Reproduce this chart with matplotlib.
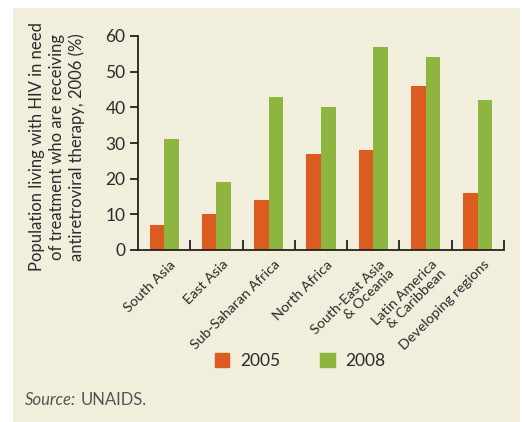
import numpy as np
import matplotlib
matplotlib.use('Agg')
import matplotlib.pyplot as plt
import matplotlib.patches as mpatches

plt.rcParams['font.family'] = ['Lato', 'DejaVu Sans']

# ── DATA ─────────────────────────────────────────────────────────────────────
regions = ['South Asia', 'East Asia', 'Sub-Saharan Africa', 'North Africa',
           'South-East Asia\n& Oceania', 'Latin America\n& Caribbean',
           'Developing regions']
vals_2005 = [7, 10, 14, 27, 28, 46, 16]
vals_2008 = [31, 19, 43, 40, 57, 54, 42]
series = ['2005', '2008']
yticks = [0, 10, 20, 30, 40, 50, 60]

ORANGE = '#DC5B20'
GREEN = '#8DB53F'
BEIGE = '#F1EEDC'
TXT = '#2b2b2b'

W, H = 522, 422
fig = plt.figure(figsize=(W / 100, H / 100), dpi=100, facecolor='white')

# beige panel behind everything
fig.patches.append(mpatches.Rectangle((13 / W, 0), 507 / W, 1 - 8 / H,
                                      transform=fig.transFigure,
                                      facecolor=BEIGE, edgecolor='none', zorder=-10))

ax = fig.add_axes([138 / W, 1 - 250 / H, (504 - 138) / W, (250 - 36) / H])
ax.set_facecolor('none')
ax.set_zorder(2)

x = np.arange(len(regions))
bw = 0.28
ax.bar(x - bw / 2, vals_2005, bw, color=ORANGE, label=series[0], zorder=2)
ax.bar(x + bw / 2, vals_2008, bw, color=GREEN, label=series[1], zorder=2)

ax.set_xlim(-0.5, len(regions) - 0.5)
ax.set_ylim(0, 60)
ax.set_yticks(yticks)

for s in ['top', 'right']:
    ax.spines[s].set_visible(False)
for s in ['left', 'bottom']:
    ax.spines[s].set_linewidth(1.3)
    ax.spines[s].set_color('#222222')

ax.tick_params(axis='y', direction='out', length=6, width=1.3, color='#222222',
               labelsize=12.5, labelcolor=TXT, pad=3)

# group-boundary ticks pointing up
ax.set_xticks(np.arange(len(regions)) + 0.5)
ax.set_xticklabels([])
ax.tick_params(axis='x', direction='in', length=7, width=1.3, color='#222222')

for xi, lab in zip(x, regions):
    ax.text(xi + 0.1, -2.3, lab, rotation=45, rotation_mode='anchor',
            ha='right', va='top', multialignment='right', fontsize=10.3,
            color=TXT, transform=ax.transData, clip_on=False, linespacing=1.1)

fig.text(57 / W, 1 - 147 / H,
         'Population living with HIV in need\nof treatment who are receiving\nantiretroviral therapy, 2006 (%)',
         rotation=90, ha='center', va='center', fontsize=12, color=TXT,
         linespacing=1.3)

# legend
handles = [mpatches.Patch(color=ORANGE, label=series[0]),
           mpatches.Patch(color=GREEN, label=series[1])]
fig.legend(handles=handles, loc='center', bbox_to_anchor=(300 / W, 1 - 361 / H),
           ncol=2, frameon=False, fontsize=12.5, handlelength=0.85, handleheight=0.85,
           columnspacing=2.3, handletextpad=0.6, labelcolor=TXT)

src = fig.text(25 / W, 1 - 400 / H, 'Source:', style='italic', fontsize=12,
               color='#555555', ha='left', va='center')
r = fig.canvas.get_renderer()
bb = src.get_window_extent(renderer=r)
fig.text((bb.x1 + 4) / W, 1 - 400 / H, 'UNAIDS.', fontsize=12,
         color='#555555', ha='left', va='center')

fig.savefig('out.png', dpi=100, facecolor='white')
